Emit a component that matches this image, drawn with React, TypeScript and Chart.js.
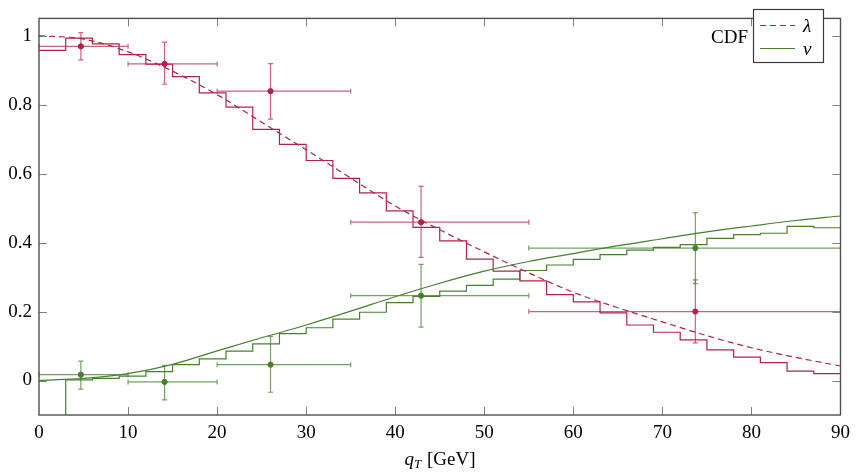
import React, { useEffect, useRef } from 'react';
import { Chart, registerables } from 'chart.js';

Chart.register(...registerables);

// ---- data ----
const binEdges = [0, 3, 6, 9, 12, 15, 18, 21, 24, 27, 30, 33, 36, 39, 42, 45, 48, 51, 54, 57, 60, 63, 66, 69, 72, 75, 78, 81, 84, 87, 90];
const lambdaHist = [0.957, 0.993, 0.976, 0.945, 0.917, 0.881, 0.834, 0.793, 0.728, 0.685, 0.638, 0.586, 0.544, 0.492, 0.444, 0.405, 0.352, 0.317, 0.289, 0.249, 0.228, 0.196, 0.161, 0.140, 0.118, 0.089, 0.068, 0.052, 0.027, 0.020];
const nuHist = [-0.3, 0.002, 0.006, 0.013, 0.026, 0.046, 0.063, 0.085, 0.106, 0.136, 0.153, 0.178, 0.198, 0.226, 0.244, 0.259, 0.276, 0.294, 0.319, 0.335, 0.351, 0.365, 0.378, 0.386, 0.394, 0.412, 0.423, 0.427, 0.447, 0.443];

const curveX = [0, 5, 10, 15, 20, 25, 30, 35, 40, 45, 50, 55, 60, 65, 70, 75, 80, 85, 90];
const lambdaCurve = [1.0, 0.99, 0.953, 0.897, 0.829, 0.749, 0.669, 0.587, 0.506, 0.437, 0.373, 0.312, 0.256, 0.211, 0.170, 0.130, 0.095, 0.067, 0.042];
const nuCurve = [0.0, 0.006, 0.02, 0.047, 0.086, 0.124, 0.161, 0.201, 0.243, 0.282, 0.317, 0.345, 0.368, 0.391, 0.411, 0.431, 0.448, 0.464, 0.477];

const pointX = [4.7, 14.1, 26.0, 42.9, 73.7];
const xErrLow = [0, 10, 20, 35, 55];
const xErrHigh = [10, 20, 35, 55, 90];
const lambdaPts = [0.969, 0.918, 0.839, 0.459, 0.2];
const lambdaLow = [0.930, 0.859, 0.758, 0.357, 0.109];
const lambdaHigh = [1.009, 0.981, 0.919, 0.563, 0.292];
const nuPts = [0.017, -0.004, 0.046, 0.246, 0.384];
const nuLow = [-0.025, -0.056, -0.034, 0.155, 0.281];
const nuHigh = [0.056, 0.044, 0.128, 0.337, 0.487];

const xTicks = [0, 10, 20, 30, 40, 50, 60, 70, 80, 90];
const yTicks = [0, 0.2, 0.4, 0.6, 0.8, 1];
const yTickLabels = ['0', '0.2', '0.4', '0.6', '0.8', '1'];

const RED = 'rgb(178,34,68)';
const RED_A = 'rgba(178,34,68,0.7)';
const GREEN = 'rgb(70,128,46)';
const GREEN_A = 'rgba(70,128,46,0.75)';
const FONT = '"Liberation Serif", "Times New Roman", serif';

function histPoints(edges: number[], vals: number[]) {
  const pts: { x: number; y: number }[] = [];
  vals.forEach((v, i) => {
    pts.push({ x: edges[i], y: v });
    pts.push({ x: edges[i + 1], y: v });
  });
  return pts;
}

const errorBarPlugin = {
  id: 'errorBars',
  beforeDatasetsDraw(chart: any) {
    const { ctx, chartArea, scales } = chart;
    const xs = scales.x;
    const ys = scales.y;
    ctx.save();
    ctx.beginPath();
    ctx.rect(chartArea.left - 1, chartArea.top, chartArea.right - chartArea.left + 2, chartArea.bottom - chartArea.top);
    ctx.clip();
    chart.data.datasets.forEach((ds: any) => {
      if (!ds.err) return;
      ctx.strokeStyle = ds.err.color;
      ctx.lineWidth = 1.2;
      const cap = 2.5;
      ds.data.forEach((p: any, i: number) => {
        const px = xs.getPixelForValue(p.x);
        const py = ys.getPixelForValue(p.y);
        const xl = xs.getPixelForValue(ds.err.xl[i]);
        const xh = xs.getPixelForValue(ds.err.xh[i]);
        const yl = ys.getPixelForValue(ds.err.yl[i]);
        const yh = ys.getPixelForValue(ds.err.yh[i]);
        ctx.beginPath();
        ctx.moveTo(xl, py); ctx.lineTo(xh, py);
        ctx.moveTo(xl, py - cap); ctx.lineTo(xl, py + cap);
        ctx.moveTo(xh, py - cap); ctx.lineTo(xh, py + cap);
        ctx.moveTo(px, yl); ctx.lineTo(px, yh);
        ctx.moveTo(px - cap, yl); ctx.lineTo(px + cap, yl);
        ctx.moveTo(px - cap, yh); ctx.lineTo(px + cap, yh);
        ctx.stroke();
      });
    });
    ctx.restore();
  },
};

const framePlugin = {
  id: 'frame',
  afterDraw(chart: any) {
    const { ctx, chartArea, scales } = chart;
    const { left, right, top, bottom } = chartArea;
    const xs = scales.x;
    const ys = scales.y;
    ctx.save();
    // ticks (inward, mirrored)
    ctx.strokeStyle = 'rgb(120,130,140)';
    ctx.lineWidth = 1;
    const tl = 8;
    ctx.beginPath();
    xs.ticks.forEach((t: any) => {
      const px = Math.round(xs.getPixelForValue(t.value)) + 0.5;
      if (px <= left + 1 || px >= right - 1) return;
      ctx.moveTo(px, bottom); ctx.lineTo(px, bottom - tl);
      ctx.moveTo(px, top); ctx.lineTo(px, top + tl);
    });
    ys.ticks.forEach((t: any) => {
      const py = Math.round(ys.getPixelForValue(t.value)) + 0.5;
      ctx.moveTo(left, py); ctx.lineTo(left + tl, py);
      ctx.moveTo(right, py); ctx.lineTo(right - tl, py);
    });
    ctx.stroke();
    // box
    ctx.strokeStyle = 'rgb(80,80,80)';
    ctx.lineWidth = 1.4;
    ctx.strokeRect(left, top, right - left, bottom - top);

    // legend
    const lx = 753.5, ly = 9.5, lw = 70, lh = 53;
    ctx.fillStyle = '#fff';
    ctx.fillRect(lx, ly, lw, lh);
    ctx.strokeStyle = 'rgb(60,60,60)';
    ctx.lineWidth = 1.2;
    ctx.strokeRect(lx, ly, lw, lh);
    ctx.fillStyle = '#000';
    ctx.font = `19px ${FONT}`;
    ctx.textAlign = 'right';
    ctx.textBaseline = 'alphabetic';
    ctx.fillText('CDF', 748, 43);

    const entries = [chart.data.datasets[0], chart.data.datasets[1]];
    const rows = [25, 48];
    entries.forEach((ds: any, i: number) => {
      ctx.strokeStyle = ds.borderColor;
      ctx.lineWidth = 1.2;
      ctx.setLineDash(ds.borderDash || []);
      ctx.beginPath();
      ctx.moveTo(760, rows[i] + 0.5);
      ctx.lineTo(795, rows[i] + 0.5);
      ctx.stroke();
      ctx.setLineDash([]);
      ctx.fillStyle = '#000';
      ctx.font = `italic 19px ${FONT}`;
      ctx.textAlign = 'left';
      ctx.fillText(ds.label, 803, rows[i] + 7);
    });

    // x axis title: q_T [GeV]
    const baseY = 465;
    ctx.font = `italic 19px ${FONT}`;
    const wq = ctx.measureText('q').width;
    ctx.font = `italic 13px ${FONT}`;
    const wT = ctx.measureText('T').width;
    ctx.font = `19px ${FONT}`;
    const wG = ctx.measureText(' [GeV]').width;
    const total = wq + wT + 1 + wG;
    let cx = 440 - total / 2;
    ctx.textAlign = 'left';
    ctx.fillStyle = '#000';
    ctx.font = `italic 19px ${FONT}`;
    ctx.fillText('q', cx, baseY);
    cx += wq;
    ctx.font = `italic 13px ${FONT}`;
    ctx.fillText('T', cx, baseY + 3);
    cx += wT + 1;
    ctx.font = `19px ${FONT}`;
    ctx.fillText(' [GeV]', cx, baseY);
    ctx.restore();
  },
};

export default function App() {
  const ref = useRef<HTMLCanvasElement | null>(null);
  useEffect(() => {
    document.body.style.margin = '0';
    const canvas = ref.current;
    if (!canvas) return;
    const chart = new Chart(canvas, {
      type: 'line',
      data: {
        datasets: [
          {
            label: 'λ',
            data: curveX.map((x, i) => ({ x, y: lambdaCurve[i] })),
            borderColor: RED,
            borderWidth: 1.2,
            borderDash: [6, 4],
            pointRadius: 0,
            cubicInterpolationMode: 'monotone',
            fill: false,
          },
          {
            label: 'ν',
            data: curveX.map((x, i) => ({ x, y: nuCurve[i] })),
            borderColor: GREEN,
            borderWidth: 1.2,
            pointRadius: 0,
            cubicInterpolationMode: 'monotone',
            fill: false,
          },
          {
            label: 'λ hist',
            data: histPoints(binEdges, lambdaHist),
            borderColor: RED,
            borderWidth: 1.2,
            pointRadius: 0,
            tension: 0,
            fill: false,
          },
          {
            label: 'ν hist',
            data: histPoints(binEdges, nuHist),
            borderColor: GREEN,
            borderWidth: 1.2,
            pointRadius: 0,
            tension: 0,
            fill: false,
          },
          {
            label: 'λ data',
            data: pointX.map((x, i) => ({ x, y: lambdaPts[i] })),
            showLine: false,
            pointRadius: 2.6,
            pointBackgroundColor: RED,
            pointBorderColor: RED,
            borderColor: RED,
            err: { xl: xErrLow, xh: xErrHigh, yl: lambdaLow, yh: lambdaHigh, color: RED_A },
          } as any,
          {
            label: 'ν data',
            data: pointX.map((x, i) => ({ x, y: nuPts[i] })),
            showLine: false,
            pointRadius: 2.6,
            pointBackgroundColor: GREEN,
            pointBorderColor: GREEN,
            borderColor: GREEN,
            err: { xl: xErrLow, xh: xErrHigh, yl: nuLow, yh: nuHigh, color: GREEN_A },
          } as any,
        ],
      },
      options: {
        responsive: false,
        animation: false,
        devicePixelRatio: 1,
        layout: { padding: { top: 1, right: 16, left: 0, bottom: 0 } },
        plugins: {
          legend: { display: false },
          tooltip: { enabled: false },
          title: { display: false },
        },
        scales: {
          x: {
            type: 'linear',
            min: 0,
            max: 90,
            grid: { display: false, drawTicks: false },
            border: { display: false },
            afterBuildTicks: (s: any) => { s.ticks = xTicks.map((v) => ({ value: v })); },
            afterFit: (s: any) => { s.height = 60; },
            ticks: {
              color: '#000',
              padding: 7,
              maxRotation: 0,
              font: { family: FONT, size: 19 },
            },
          },
          y: {
            type: 'linear',
            min: -0.1,
            max: 1.05,
            grid: { display: false, drawTicks: false },
            border: { display: false },
            afterBuildTicks: (s: any) => { s.ticks = yTicks.map((v) => ({ value: v })); },
            afterFit: (s: any) => { s.width = 39; },
            ticks: {
              color: '#000',
              padding: 7,
              font: { family: FONT, size: 19 },
              callback: (_v: any, i: number) => yTickLabels[i],
            },
          },
        },
      } as any,
      plugins: [errorBarPlugin, framePlugin],
    });
    return () => chart.destroy();
  }, []);
  return (
    <div style={{ width: 857, height: 475, background: '#fff' }}>
      <canvas ref={ref} width={857} height={475} style={{ display: 'block' }} />
    </div>
  );
}
